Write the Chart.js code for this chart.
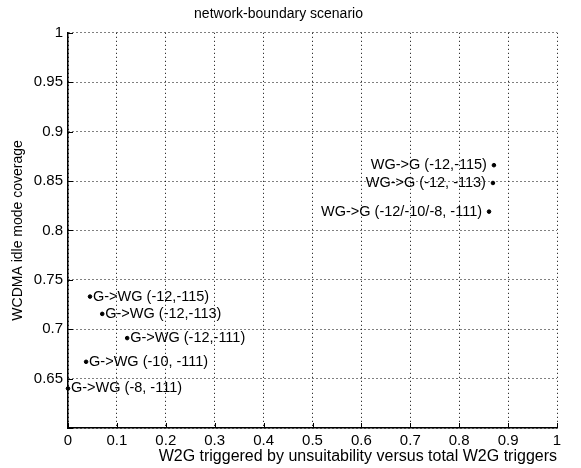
<!DOCTYPE html>
<html>
<head>
<meta charset="utf-8">
<script src="https://cdn.jsdelivr.net/npm/chart.js@4/dist/chart.umd.min.js"></script>
<style>
  html, body { margin: 0; padding: 0; background: #fff; }
  #wrap { width: 581px; height: 468px; }
</style>
</head>
<body>
<div id="wrap"><canvas id="c" width="581" height="468"></canvas></div>
<script>
// ---- data ----
const gwgX = [0.045, 0.070, 0.121, 0.037, 0.000];
const gwgY = [0.733, 0.7155, 0.691, 0.667, 0.640];
const gwgLabels = ['G->WG (-12,-115)', 'G->WG (-12,-113)', 'G->WG (-12,-111)', 'G->WG (-10, -111)', 'G->WG (-8, -111)'];

const wggX = [0.871, 0.869, 0.861];
const wggY = [0.866, 0.848, 0.819];
const wggLabels = ['WG->G (-12,-115)', 'WG->G (-12, -113)', 'WG->G (-12/-10/-8, -111)'];

const xTicks = [0, 0.1, 0.2, 0.3, 0.4, 0.5, 0.6, 0.7, 0.8, 0.9, 1];
const xTickLabels = ['0', '0.1', '0.2', '0.3', '0.4', '0.5', '0.6', '0.7', '0.8', '0.9', '1'];
const yTicks = [0.6, 0.65, 0.7, 0.75, 0.8, 0.85, 0.9, 0.95, 1];
const yTickLabels = ['', '0.65', '0.7', '0.75', '0.8', '0.85', '0.9', '0.95', '1'];

const titleText = 'network-boundary scenario';
const xTitle = 'W2G triggered by unsuitability versus total W2G triggers';
const yTitle = 'WCDMA idle mode coverage';

const FONT = "'Liberation Sans', Arial, Helvetica, sans-serif";

const toPts = (xs, ys) => xs.map((x, i) => ({ x: x, y: ys[i] }));

const bgPlugin = {
  id: 'bg',
  beforeDraw(chart) {
    const ctx = chart.ctx;
    ctx.save();
    ctx.fillStyle = '#fff';
    ctx.fillRect(0, 0, chart.width, chart.height);
    ctx.restore();
  }
};

const innerTicks = {
  id: 'innerTicks',
  afterDraw(chart) {
    const ctx = chart.ctx;
    const xs = chart.scales.x, ys = chart.scales.y;
    const a = chart.chartArea;
    ctx.save();
    ctx.strokeStyle = '#000';
    ctx.lineWidth = 1;
    ctx.beginPath();
    xTicks.forEach(v => {
      const px = Math.round(xs.getPixelForValue(v)) + 0.5;
      ctx.moveTo(px, a.bottom);
      ctx.lineTo(px, a.bottom - 5);
    });
    yTicks.forEach(v => {
      const py = Math.round(ys.getPixelForValue(v)) + 0.5;
      ctx.moveTo(a.left, py);
      ctx.lineTo(a.left + 5, py);
    });
    ctx.stroke();
    ctx.restore();
  }
};

const pointLabels = {
  id: 'pointLabels',
  afterDatasetsDraw(chart) {
    const ctx = chart.ctx;
    ctx.save();
    ctx.font = '14.5px ' + FONT;
    ctx.fillStyle = '#000';
    ctx.textBaseline = 'middle';
    chart.data.datasets.forEach((ds, di) => {
      const meta = chart.getDatasetMeta(di);
      meta.data.forEach((el, i) => {
        if (ds.labelSide === 'right') {
          ctx.textAlign = 'left';
          ctx.fillText(ds.pointLabels[i], el.x + 3, el.y);
        } else {
          ctx.textAlign = 'right';
          ctx.fillText(ds.pointLabels[i], el.x - 7, el.y);
        }
      });
    });
    ctx.restore();
  }
};

new Chart(document.getElementById('c'), {
  type: 'scatter',
  data: {
    datasets: [
      {
        label: 'G->WG',
        data: toPts(gwgX, gwgY),
        pointLabels: gwgLabels,
        labelSide: 'right',
        backgroundColor: '#000',
        borderColor: '#000',
        pointRadius: 1.8,
        pointStyle: 'circle',
        clip: false
      },
      {
        label: 'WG->G',
        data: toPts(wggX, wggY),
        pointLabels: wggLabels,
        labelSide: 'left',
        backgroundColor: '#000',
        borderColor: '#000',
        pointRadius: 1.8,
        pointStyle: 'circle',
        clip: false
      }
    ]
  },
  options: {
    responsive: false,
    animation: false,
    devicePixelRatio: 1,
    layout: { padding: { left: 0, right: 24, top: 0, bottom: 0 } },
    plugins: {
      legend: { display: false },
      tooltip: { enabled: false },
      title: {
        display: true,
        text: titleText,
        color: '#000',
        font: { family: FONT, size: 14, weight: 'normal' },
        padding: { top: 6, bottom: 10 }
      }
    },
    scales: {
      x: {
        type: 'linear',
        min: 0,
        max: 1,
        afterBuildTicks: s => { s.ticks = xTicks.map(v => ({ value: v })); },
        afterFit: s => { s.height = 40; },
        ticks: {
          autoSkip: false,
          maxRotation: 0,
          padding: 4,
          color: '#000',
          font: { family: FONT, size: 15 },
          callback: (v, i) => xTickLabels[i]
        },
        grid: { color: '#000', lineWidth: 1, drawTicks: false },
        border: { display: true, color: '#000', width: 1.5, dash: [1, 3] },
        title: {
          display: true,
          align: 'end',
          text: xTitle,
          color: '#000',
          font: { family: FONT, size: 16 },
          padding: { top: 0, bottom: 2 }
        }
      },
      y: {
        type: 'linear',
        min: 0.6,
        max: 1,
        afterBuildTicks: s => { s.ticks = yTicks.map(v => ({ value: v })); },
        afterFit: s => { s.width = 68; },
        ticks: {
          autoSkip: false,
          padding: 5,
          color: '#000',
          font: { family: FONT, size: 15 },
          callback: (v, i) => yTickLabels[i]
        },
        grid: { color: '#000', lineWidth: 1, drawTicks: false },
        border: { display: true, color: '#000', width: 1.5, dash: [1, 3] },
        title: {
          display: true,
          text: yTitle,
          color: '#000',
          font: { family: FONT, size: 14 },
          padding: { top: 10, bottom: 0 }
        }
      }
    }
  },
  plugins: [bgPlugin, innerTicks, pointLabels]
});
</script>
</body>
</html>
